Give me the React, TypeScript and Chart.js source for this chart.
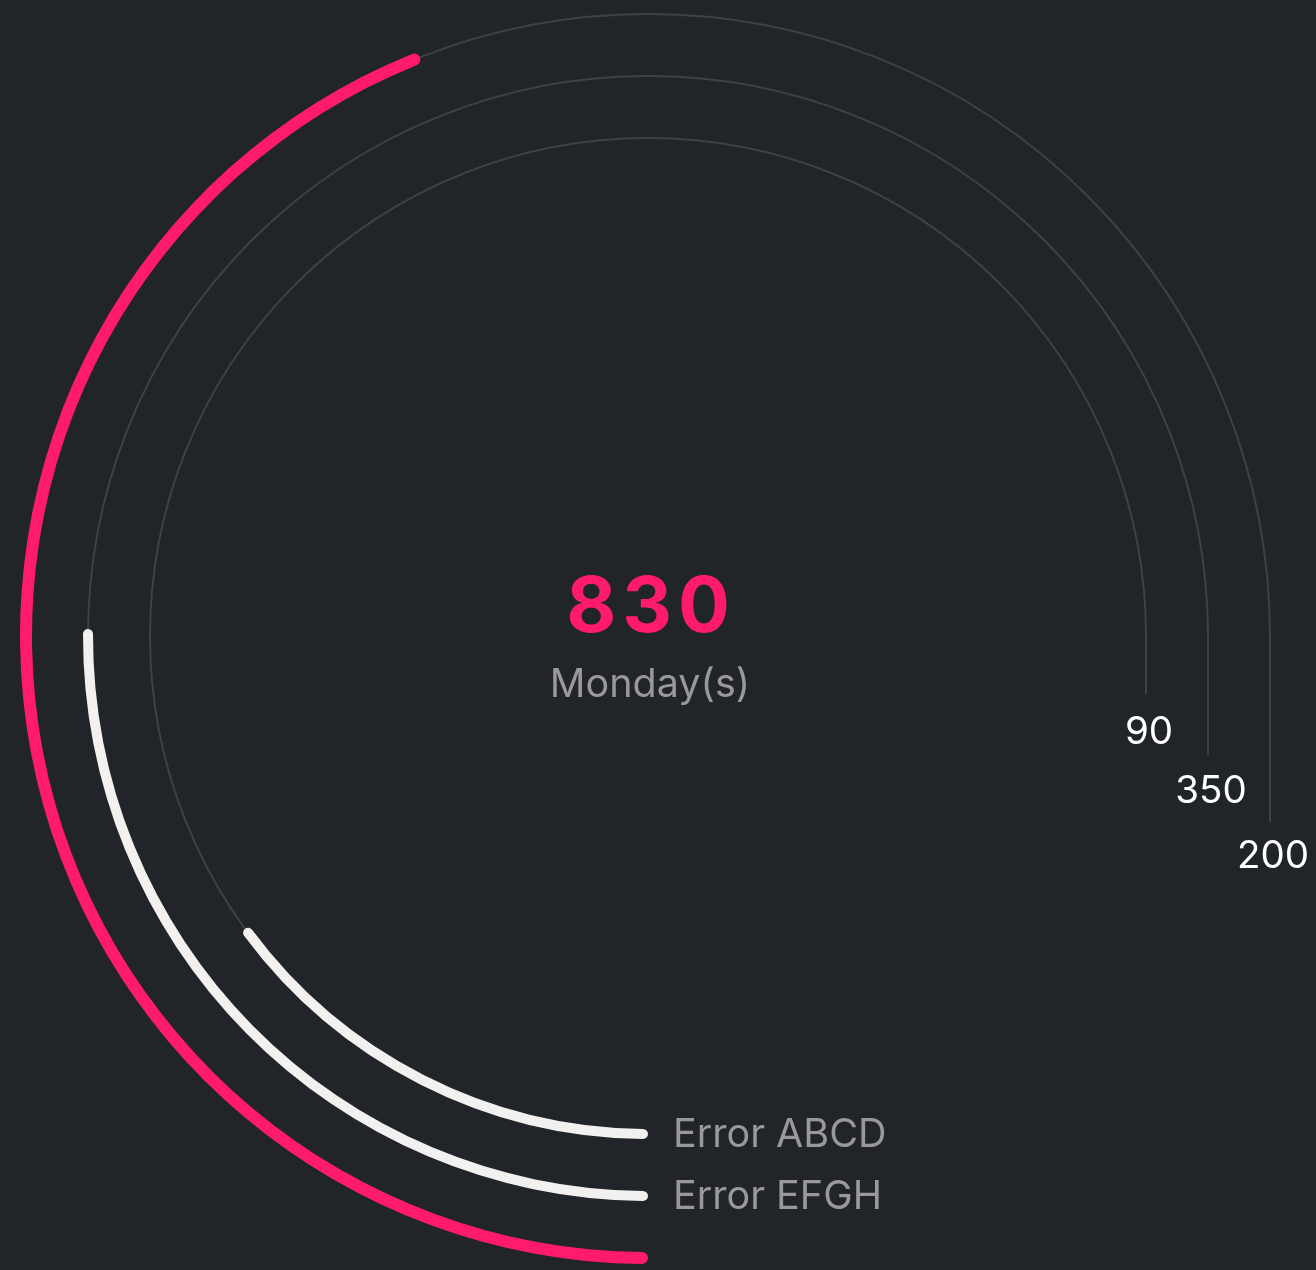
import React, { useEffect, useRef } from 'react';
import { Chart, registerables } from 'chart.js';

Chart.register(...registerables);

// ---- data (outer ring first, as Chart.js draws dataset 0 outermost) ----
const ringNames: string[] = ['', 'Error EFGH', 'Error ABCD'];
const ringCounts: number[] = [200, 350, 90];
const ringProgress: number[] = [58.7, 33.6, 20.0]; // percent of the 270° track
const centerValue = 830;
const centerLabel = 'Monday(s)';

// ---- styles ----
const BG = '#212429';
const TRACK = '#3e4147';
const PINK = '#FF1B6B';
const WHITE = '#F3F0F0';
const GREY_TEXT = '#9a9898';
const ringColors = [PINK, WHITE, WHITE];
const ringWeights = [12, 10, 10];
const gapWeights = [51, 52];
const tailLengths = [186, 119, 58];
const valueBaselines = [232, 167, 108];

const FONT = 'Inter, "Noto Sans", sans-serif';

export default function App() {
  const ref = useRef<HTMLCanvasElement | null>(null);

  useEffect(() => {
    document.body.style.margin = '0';
    document.body.style.background = BG;
    const canvas = ref.current;
    if (!canvas) return;

    const datasets: any[] = [];
    const ringIndex: number[] = [];
    ringProgress.forEach((p, i) => {
      ringIndex.push(datasets.length);
      datasets.push({
        data: [p, 100 - p],
        backgroundColor: [ringColors[i], 'rgba(0,0,0,0)'],
        borderWidth: 0,
        borderRadius: ringWeights[i] / 2,
        weight: ringWeights[i],
      });
      if (i < gapWeights.length) {
        datasets.push({
          data: [100],
          backgroundColor: ['rgba(0,0,0,0)'],
          borderWidth: 0,
          weight: gapWeights[i],
        });
      }
    });

    const ringPlugin = {
      id: 'ringDecor',
      beforeDatasetsDraw(chart: any) {
        const ctx = chart.ctx;
        ctx.save();
        ringIndex.forEach((di, i) => {
          const arc = chart.getDatasetMeta(di).data[0];
          if (!arc) return;
          const r = (arc.innerRadius + arc.outerRadius) / 2;
          ctx.beginPath();
          ctx.strokeStyle = TRACK;
          ctx.lineWidth = 2;
          ctx.arc(arc.x, arc.y, r, Math.PI / 2, Math.PI * 2);
          ctx.lineTo(arc.x + r, arc.y + tailLengths[i]);
          ctx.stroke();
        });
        ctx.restore();
      },
      afterDatasetsDraw(chart: any) {
        const ctx = chart.ctx;
        ctx.save();
        let cx = 0;
        let cy = 0;
        ringIndex.forEach((di, i) => {
          const arc = chart.getDatasetMeta(di).data[0];
          if (!arc) return;
          cx = arc.x;
          cy = arc.y;
          const r = (arc.innerRadius + arc.outerRadius) / 2;
          // value at end of tail
          ctx.fillStyle = '#ffffff';
          ctx.font = `400 38.5px ${FONT}`;
          ctx.textAlign = 'center';
          ctx.textBaseline = 'alphabetic';
          ctx.fillText(String(ringCounts[i]), arc.x + r + 3, arc.y + valueBaselines[i]);
          // name at start of arc (bottom)
          if (ringNames[i]) {
            ctx.fillStyle = GREY_TEXT;
            ctx.font = `400 39.5px ${FONT}`;
            ctx.textAlign = 'left';
            ctx.fillText(ringNames[i], arc.x + 25, arc.y + r + 13);
          }
        });
        // centre text
        ctx.fillStyle = PINK;
        ctx.font = `700 77px ${FONT}`;
        ctx.textAlign = 'center';
        ctx.textBaseline = 'alphabetic';
        (ctx as any).letterSpacing = '6px';
        ctx.fillText(String(centerValue), cx + 3, cy - 4);
        (ctx as any).letterSpacing = '0px';
        ctx.fillStyle = GREY_TEXT;
        ctx.font = `400 39.5px ${FONT}`;
        ctx.fillText(centerLabel, cx + 2, cy + 61);
        ctx.restore();
      },
    };

    const chart = new Chart(canvas, {
      type: 'doughnut',
      data: { labels: ['value', 'rest'], datasets },
      options: {
        animation: false,
        responsive: true,
        maintainAspectRatio: false,
        rotation: 180,
        circumference: 270,
        cutout: 493,
        layout: { padding: { left: 20, right: 40, top: 8, bottom: 6 } },
        plugins: {
          legend: { display: false },
          tooltip: { enabled: false },
        },
        events: [],
      } as any,
      plugins: [ringPlugin],
    });

    return () => chart.destroy();
  }, []);

  return (
    <div
      style={{
        position: 'fixed',
        left: 0,
        top: 0,
        width: 1316,
        height: 1270,
        background: BG,
      }}
    >
      <canvas ref={ref} />
    </div>
  );
}
